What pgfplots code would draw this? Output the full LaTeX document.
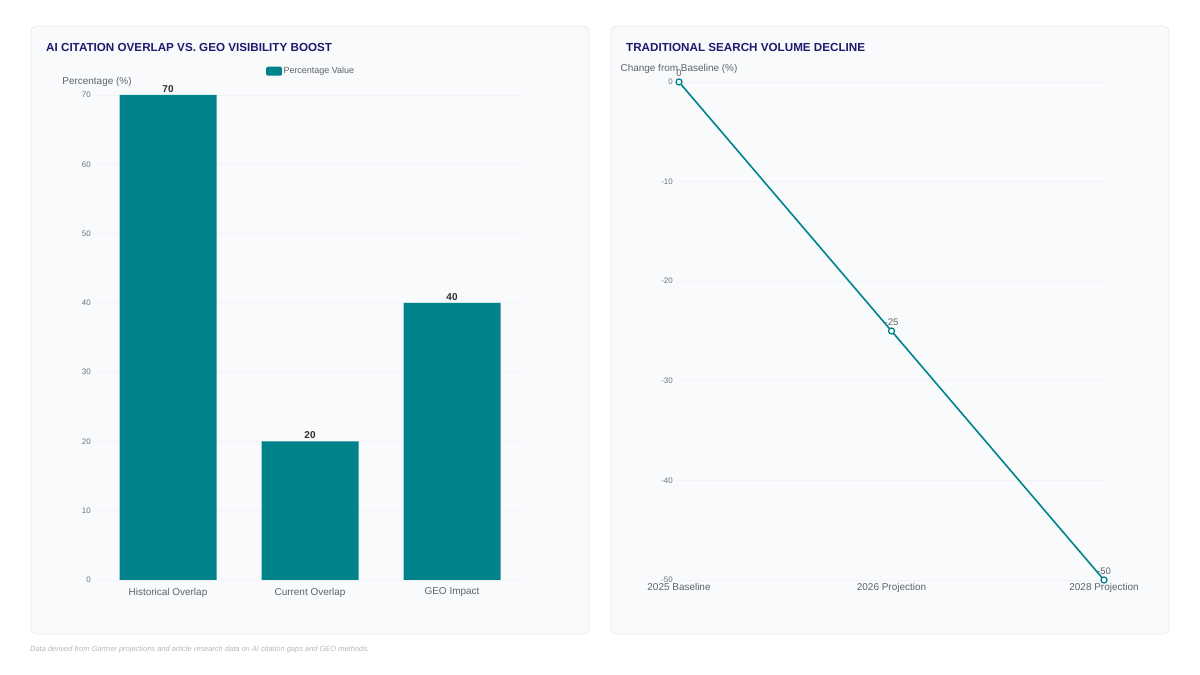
\documentclass[border=0pt]{standalone}
\usepackage{fontspec}
\setmainfont{Liberation Sans}
\usepackage{pgfplots}
\pgfplotsset{compat=1.18}
\definecolor{teal}{HTML}{00838B}
\definecolor{navy}{HTML}{1E1B6E}
\definecolor{panel}{HTML}{F8FAFC}
\definecolor{panelline}{HTML}{E6E9EE}
\definecolor{gridc}{HTML}{F0F2F5}
\definecolor{ticktxt}{HTML}{6B7280}
\definecolor{labtxt}{HTML}{5F6368}
\definecolor{valtxt}{HTML}{2D2D2D}

\pgfplotsset{
  panelaxis/.style={
    scale only axis,
    /pgf/number format/assume math mode=true,
    axis line style={draw=none},
    major tick style={draw=none},
    ymajorgrids, grid style={gridc, line width=0.8bp},
    yticklabel style={font=\fontsize{8}{9}\selectfont, text=ticktxt, inner sep=0pt, xshift=-6bp},
    xticklabel style={font=\fontsize{10}{12}\selectfont, text=labtxt, inner sep=0pt, yshift=-3.5bp, anchor=north},
    clip=false,
  }
}

\begin{document}
\begin{tikzpicture}[x=1bp,y=1bp]
% canvas and cards
\fill[white] (0,0) rectangle (1200,675);
\filldraw[fill=panel, draw=panelline, line width=0.8bp, rounded corners=6bp] (31,41) rectangle (589,649);
\filldraw[fill=panel, draw=panelline, line width=0.8bp, rounded corners=6bp] (611,41) rectangle (1169,649);

% titles
\node[anchor=west, inner sep=0pt, text=navy, font=\bfseries\fontsize{11.7}{13}\selectfont] at (46,628) {AI CITATION OVERLAP VS. GEO VISIBILITY BOOST};
\node[anchor=west, inner sep=0pt, text=navy, font=\bfseries\fontsize{11.7}{13}\selectfont] at (626,628) {TRADITIONAL SEARCH VOLUME DECLINE};

% axis titles
\node[inner sep=0pt, text=labtxt, font=\fontsize{10}{12}\selectfont] at (97,593) {Percentage (\%)};
\node[inner sep=0pt, text=labtxt, font=\fontsize{10}{12}\selectfont] at (679,606) {Change from Baseline (\%)};

% left: bar chart
\begin{axis}[panelaxis,
  at={(97bp,95bp)}, anchor=south west,
  width=426bp, height=485bp,
  xmin=-0.5, xmax=2.5, ymin=0, ymax=70,
  ytick={0,10,...,70},
  xtick={0,1,2},
  xticklabels={Historical Overlap, Current Overlap, GEO Impact},
  ybar, bar width=97bp,
  nodes near coords,
  every node near coord/.append style={font=\bfseries\fontsize{10}{12}\selectfont, text=valtxt, inner sep=2.5bp},
  legend style={at={(rel axis cs:0.502,1.049)}, anchor=center, draw=none, fill=none,
    font=\fontsize{9}{11}\selectfont, text=labtxt, inner sep=0pt,
    nodes={inner sep=1.5bp}},
  legend image code/.code={\fill[teal, rounded corners=1.5bp] (0bp,-4.5bp) rectangle (16bp,4.5bp);},
]
\addplot[fill=teal, draw=none] coordinates {(0,70) (1,20) (2,40)};
\addlegendentry{Percentage Value}
\end{axis}

% right: line chart
\begin{axis}[panelaxis,
  at={(679bp,95bp)}, anchor=south west,
  width=425bp, height=498bp,
  xmin=0, xmax=2, ymin=-50, ymax=0,
  ytick={-50,-40,...,0},
  xtick={0,1,2},
  xticklabels={2025 Baseline, 2026 Projection, 2028 Projection},
  nodes near coords,
  every node near coord/.append style={font=\fontsize{9.5}{11}\selectfont, text=labtxt, inner sep=2bp, anchor=south, yshift=3bp},
]
\addplot[teal, line width=1.6bp, mark=*, mark size=3bp,
  mark options={fill=white, draw=teal, line width=1.3bp}]
  coordinates {(0,0) (1,-25) (2,-50)};
\end{axis}

% footnote
\node[anchor=west, inner sep=0pt, text=black!28, font=\itshape\fontsize{7.5}{9}\selectfont] at (30,25) {Data derived from Gartner projections and article research data on AI citation gaps and GEO methods.};
\end{tikzpicture}
\end{document}
